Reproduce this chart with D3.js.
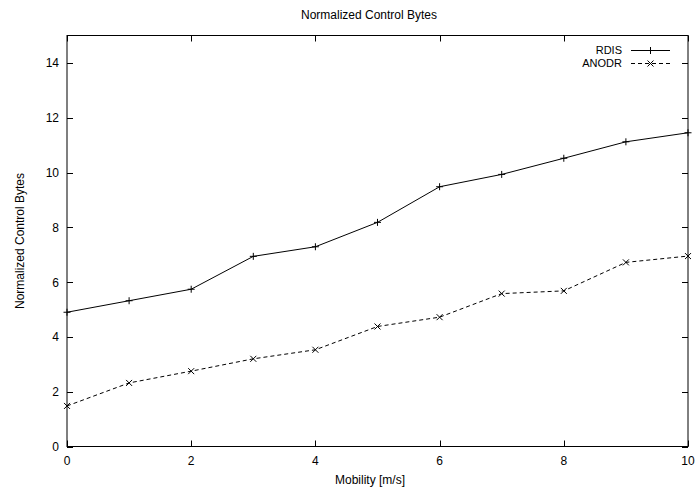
<!DOCTYPE html>
<html>
<head>
<meta charset="utf-8">
<script src="https://cdn.jsdelivr.net/npm/d3@7"></script>
<style>
  html, body { margin: 0; padding: 0; background: #fff; }
  svg { display: block; font-family: "Liberation Sans", Arial, Helvetica, sans-serif; }
</style>
</head>
<body>
<svg id="chart" width="696" height="492"></svg>
<script>
const mobility = [0, 1, 2, 3, 4, 5, 6, 7, 8, 9, 10];
const rdis = [4.90, 5.32, 5.74, 6.94, 7.29, 8.18, 9.48, 9.93, 10.52, 11.12, 11.45];
const anodr = [1.48, 2.32, 2.75, 3.20, 3.53, 4.38, 4.72, 5.58, 5.68, 6.72, 6.95];
const xTicks = [0, 2, 4, 6, 8, 10];
const yTicks = [0, 2, 4, 6, 8, 10, 12, 14];
const seriesNames = ["RDIS", "ANODR"];

const svg = d3.select("#chart");
const L = 67, R = 688, T = 35.5, B = 446.5;
const x = d3.scaleLinear().domain([0, 10]).range([L, R]);
const y = d3.scaleLinear().domain([0, 15]).range([B, T]);
const tickLen = 6;

// Title
svg.append("text").attr("x", 369).attr("y", 19).attr("text-anchor", "middle")
  .attr("font-size", 12).text("Normalized Control Bytes");

// Axis labels
svg.append("text").attr("x", 370).attr("y", 484).attr("text-anchor", "middle")
  .attr("font-size", 12).text("Mobility [m/s]");
svg.append("text").attr("transform", "translate(23.5,241) rotate(-90)")
  .attr("text-anchor", "middle").attr("font-size", 12).text("Normalized Control Bytes");

// Ticks (inward, mirrored)
const g = svg.append("g");
yTicks.forEach(v => {
  const yy = Math.round(y(v)) + 0.5;
  g.append("line").attr("x1", L).attr("x2", L + tickLen).attr("y1", yy).attr("y2", yy).attr("stroke", "#000");
  g.append("line").attr("x1", R - tickLen).attr("x2", R).attr("y1", yy).attr("y2", yy).attr("stroke", "#000");
  g.append("text").attr("x", 59).attr("y", y(v) + 4.5).attr("text-anchor", "end")
    .attr("font-size", 12).text(v);
});
xTicks.forEach(v => {
  const xx = Math.round(x(v)) + 0.5;
  g.append("line").attr("x1", xx).attr("x2", xx).attr("y1", B).attr("y2", B - tickLen).attr("stroke", "#000");
  g.append("line").attr("x1", xx).attr("x2", xx).attr("y1", T).attr("y2", T + tickLen).attr("stroke", "#000");
  g.append("text").attr("x", x(v)).attr("y", 465).attr("text-anchor", "middle")
    .attr("font-size", 12).text(v);
});

// Frame
svg.append("rect").attr("x", L).attr("y", T).attr("width", R - L).attr("height", B - T)
  .attr("fill", "none").attr("stroke", "#000").attr("stroke-width", 1);

const line = d3.line().x((d, i) => x(mobility[i])).y(d => y(d));

function plus(sel, cx, cy, s) {
  sel.append("path").attr("d", `M${cx - s},${cy}H${cx + s}M${cx},${cy - s}V${cy + s}`)
    .attr("stroke", "#000").attr("stroke-width", 1).attr("fill", "none");
}
function cross(sel, cx, cy, s) {
  sel.append("path").attr("d", `M${cx - s},${cy - s}L${cx + s},${cy + s}M${cx - s},${cy + s}L${cx + s},${cy - s}`)
    .attr("stroke", "#000").attr("stroke-width", 1).attr("fill", "none");
}

// RDIS
svg.append("path").datum(rdis).attr("d", line).attr("fill", "none")
  .attr("stroke", "#000").attr("stroke-width", 1);
const gm1 = svg.append("g");
rdis.forEach((v, i) => plus(gm1, x(mobility[i]), y(v), 3.5));

// ANODR
svg.append("path").datum(anodr).attr("d", line).attr("fill", "none")
  .attr("stroke", "#000").attr("stroke-width", 1).attr("stroke-dasharray", "4,3");
const gm2 = svg.append("g");
anodr.forEach((v, i) => cross(gm2, x(mobility[i]), y(v), 3));

// Legend
const legY = [50, 63];
seriesNames.forEach((name, i) => {
  svg.append("text").attr("x", 622).attr("y", legY[i] + 4).attr("text-anchor", "end")
    .attr("font-size", 11).text(name);
  const l = svg.append("line").attr("x1", 631).attr("x2", 670).attr("y1", legY[i] + 0.5).attr("y2", legY[i] + 0.5)
    .attr("stroke", "#000").attr("stroke-width", 1);
  if (i === 1) l.attr("stroke-dasharray", "4,3");
  if (i === 0) plus(svg, 650.5, legY[i] + 0.5, 3.5); else cross(svg, 650.5, legY[i] + 0.5, 3);
});
</script>
</body>
</html>
